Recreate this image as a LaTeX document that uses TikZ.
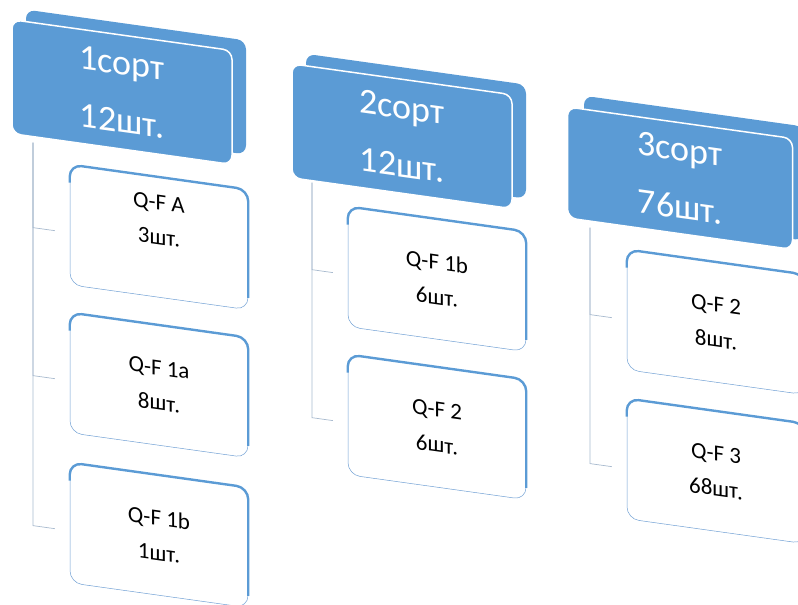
\documentclass[tikz,border=0pt]{standalone}
\usepackage{fontspec}
\setmainfont{Carlito}
\usetikzlibrary{calc}
\definecolor{hblue}{RGB}{91,155,213}
\definecolor{lblue}{RGB}{112,160,212}
\definecolor{lgray}{RGB}{168,186,206}
\begin{document}
\begin{tikzpicture}[x=1pt,y=-1pt]
		\tikzstyle{hdr} = [rectangle, rounded corners=9pt, fill=hblue, draw=white, line width=1.5pt, text=white, minimum width=220pt, minimum height=114pt, align=center, font=\fontsize{36}{58}\selectfont, transform shape]
		\tikzstyle{hdrback} = [rectangle, rounded corners=9pt, fill=hblue, minimum width=220pt, minimum height=114pt, transform shape]
		\tikzstyle{item} = [rectangle, rounded corners=12pt, fill=white, draw=lblue, line width=0.5pt, minimum width=178pt, minimum height=120pt, align=center, font=\fontsize{23}{35}\selectfont, transform shape]
		\tikzstyle{lid} = [hblue, line width=2.4pt, rounded corners=12pt]
		\tikzstyle{conn} = [lgray, line width=0.7pt, shorten >=15pt]
		\useasboundingbox (0,0) rectangle (798,605);
		\begin{scope}[yslant=-0.14]
		% headers
		\node[hdrback] (h1b) at (136,63) {}; \node[hdr] (h1) at (122,75) {1сорт\\12шт.};
		\node[hdrback] (h2b) at (416,68) {}; \node[hdr] (h2) at (402,80) {2сорт\\12шт.};
		\node[hdrback] (h3b) at (694,71) {}; \node[hdr, minimum width=225pt, minimum height=111pt] (h3) at (680,83) {3сорт\\76шт.};
		% items
		\node[item] (c11) at (159,215) {Q-F A\\3шт.\\\mbox{}};
		\node[item] (c12) at (159,363) {Q-F 1a\\8шт.};
		\node[item] (c13) at (159,513) {Q-F 1b\\1шт.};
		\node[item] (c21) at (437,218) {Q-F 1b\\6шт.};
		\node[item] (c22) at (437,366) {Q-F 2\\6шт.};
		\node[item] (c31) at (716,222) {Q-F 2\\8шт.};
		\node[item] (c32) at (716,371) {Q-F 3\\68шт.};
		\foreach \c in {c11,c12,c13,c21,c22,c31,c32}
			\draw[lid] ($(\c.north west)!.15!(\c.south west)$) -- (\c.north west) -- (\c.north east) -- ($(\c.north east)!.9!(\c.south east)$);
		% connectors
		\coordinate (t1) at (33,138); \coordinate (t2) at (312,139); \coordinate (t3) at (590,145);
		\draw[conn] (t1) |- ([yshift=-8pt]c11.west); \draw[conn] (t1) |- ([yshift=-8pt]c12.west); \draw[conn] (t1) |- ([yshift=-8pt]c13.west);
		\draw[conn] (t2) |- ([yshift=-8pt]c21.west); \draw[conn] (t2) |- ([yshift=-8pt]c22.west);
		\draw[conn] (t3) |- ([yshift=-10pt]c31.west); \draw[conn] (t3) |- ([yshift=-10pt]c32.west);
		\end{scope}
\end{tikzpicture}
\end{document}
